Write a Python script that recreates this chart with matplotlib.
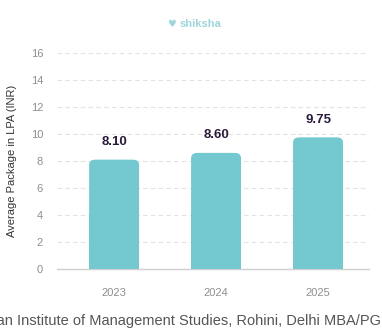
import matplotlib
matplotlib.use("Agg")
import matplotlib.pyplot as plt
from matplotlib.patches import FancyBboxPatch

years = ["2023", "2024", "2025"]
values = [8.10, 8.60, 9.75]
yticks = [0, 2, 4, 6, 8, 10, 12, 14, 16]

plt.rcParams['font.family'] = ['Liberation Sans', 'DejaVu Sans']

fig = plt.figure(figsize=(3.82, 3.36), dpi=100)
ax = fig.add_axes([57/382, 1-269/336, 312/382, 216/336])

x = list(range(len(years)))
bars = ax.bar(x, values, width=0.49, color="#74C9D0", zorder=3)
# rounded corners
for b in bars:
    b.set_visible(False)
    p = FancyBboxPatch((b.get_x(), 0), b.get_width(), b.get_height(),
                       boxstyle="round,pad=0,rounding_size=0.06",
                       mutation_aspect=6.5, facecolor="#74C9D0",
                       edgecolor="none", zorder=3)
    ax.add_patch(p)
    ax.add_patch(FancyBboxPatch((b.get_x(), 0), b.get_width(), b.get_height()/2,
                                boxstyle="square,pad=0", facecolor="#74C9D0",
                                edgecolor="none", zorder=3))
    ax.text(b.get_x()+b.get_width()/2, b.get_height()+0.85, f"{b.get_height():.2f}",
            ha="center", va="bottom", fontsize=9.5, fontweight="bold",
            color="#2B1B3A")

ax.set_xlim(-0.56, 2.5)
ax.set_ylim(0, 16)
ax.set_yticks(yticks)
ax.set_xticks(x)
ax.set_xticklabels(years)
ax.tick_params(axis="both", length=0, labelsize=8, labelcolor="#8f8f8f")
ax.tick_params(axis="x", pad=14)
ax.tick_params(axis="y", pad=10)
for t in yticks[1:]:
    ax.axhline(t, color="#e2e2e2", lw=0.8, ls=(0, (4, 3)), zorder=1)
for s in ["top", "right", "left"]:
    ax.spines[s].set_visible(False)
ax.spines["bottom"].set_color("#d0d0d0")
ax.spines["bottom"].set_linewidth(1.0)
ax.set_ylabel("Average Package in LPA (INR)", fontsize=8, color="#333333", labelpad=10)

fig.text(0.525, 1-24/336, "shiksha", ha="center", va="center", fontsize=8,
         color="#9fd6dc", fontweight="bold")
fig.text(0.45, 1-24/336, "♥", ha="center", va="center", fontsize=7, color="#9fd6dc",
         family=['DejaVu Sans'])

fig.text(-0.07, 1-321/336, "Jagan Institute of Management Studies, Rohini, Delhi MBA/PGDM Placements",
         ha="left", va="center", fontsize=10.5, color="#555555")

fig.savefig("out.png", dpi=100)
